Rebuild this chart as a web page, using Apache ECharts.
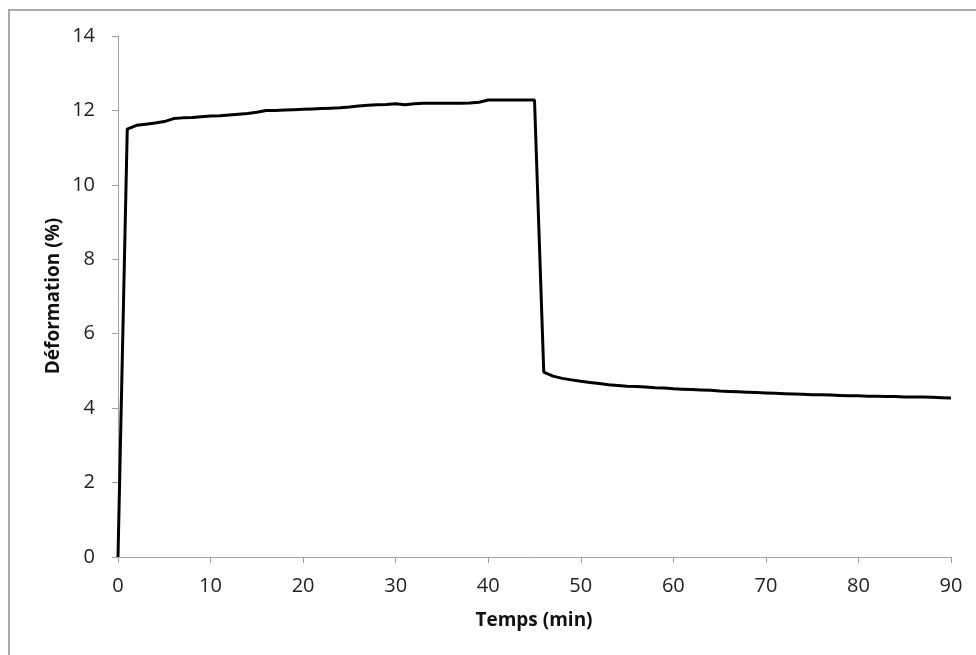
<!DOCTYPE html>
<html>
<head>
<meta charset="utf-8">
<script src="https://cdn.jsdelivr.net/npm/echarts@6/dist/echarts.min.js"></script>
<style>
html,body{margin:0;padding:0;background:#fff;}
#chart{width:976px;height:655px;}
</style>
</head>
<body>
<div id="chart"></div>
<script>
const xTitle = 'Temps (min)';
const yTitle = 'Déformation (%)';
const times = [];
for (let i = 0; i <= 90; i++) times.push(i);
const deformation = [
  0, 11.5, 11.6, 11.63, 11.66, 11.7, 11.78, 11.8, 11.81, 11.83,
  11.85, 11.86, 11.88, 11.9, 11.92, 11.95, 12.0, 12.0, 12.01, 12.02,
  12.03, 12.04, 12.05, 12.06, 12.07, 12.09, 12.12, 12.14, 12.15, 12.16,
  12.18, 12.15, 12.18, 12.19, 12.19, 12.19, 12.19, 12.19, 12.2, 12.22,
  12.28, 12.28, 12.28, 12.28, 12.28, 12.28, 4.97, 4.86, 4.8, 4.76,
  4.72, 4.69, 4.66, 4.63, 4.61, 4.59, 4.58, 4.57, 4.55, 4.54,
  4.52, 4.51, 4.5, 4.49, 4.48, 4.46, 4.45, 4.44, 4.43, 4.42,
  4.41, 4.4, 4.39, 4.38, 4.37, 4.36, 4.36, 4.35, 4.34, 4.33,
  4.33, 4.32, 4.32, 4.31, 4.31, 4.3, 4.3, 4.3, 4.29, 4.28,
  4.27
];
const points = times.map((t, i) => [t, deformation[i]]);

const chart = echarts.init(document.getElementById('chart'), null, {renderer: 'canvas'});
const font = '"Open Sans", "Liberation Sans", sans-serif';
chart.setOption({
  animation: false,
  backgroundColor: '#fff',
  grid: {left: 118, right: 25, top: 36, bottom: 98},
  xAxis: {
    type: 'value', min: 0, max: 90, interval: 10,
    axisLine: {lineStyle: {color: '#a0a0a0', width: 1}},
    axisTick: {show: true, inside: false, length: 6, lineStyle: {color: '#a0a0a0'}},
    axisLabel: {color: '#222', fontSize: 20, fontFamily: font, margin: 19},
    splitLine: {show: false}
  },
  yAxis: {
    type: 'value', min: 0, max: 14, interval: 2,
    axisLine: {show: true, lineStyle: {color: '#a0a0a0', width: 1}},
    axisTick: {show: true, inside: false, length: 6, lineStyle: {color: '#a0a0a0'}},
    axisLabel: {color: '#222', fontSize: 20, fontFamily: font, margin: 23},
    splitLine: {show: false}
  },
  graphic: [
    {type: 'rect', shape: {x: 9, y: 10, width: 1000, height: 700}, style: {fill: 'none', stroke: '#8c8c8c', lineWidth: 1.5}, silent: true, z: -1},
    {type: 'text', x: 534, y: 621, style: {text: xTitle, font: 'bold 19px ' + font, fill: '#111', textAlign: 'center', textVerticalAlign: 'middle'}},
    {type: 'text', x: 54, y: 296, rotation: Math.PI / 2, style: {text: yTitle, font: 'bold 19px ' + font, fill: '#111', textAlign: 'center', textVerticalAlign: 'middle'}}
  ],
  series: [{
    type: 'line', data: points, showSymbol: false, symbol: 'none',
    lineStyle: {color: '#000', width: 3}, smooth: false
  }]
});
</script>
</body>
</html>
